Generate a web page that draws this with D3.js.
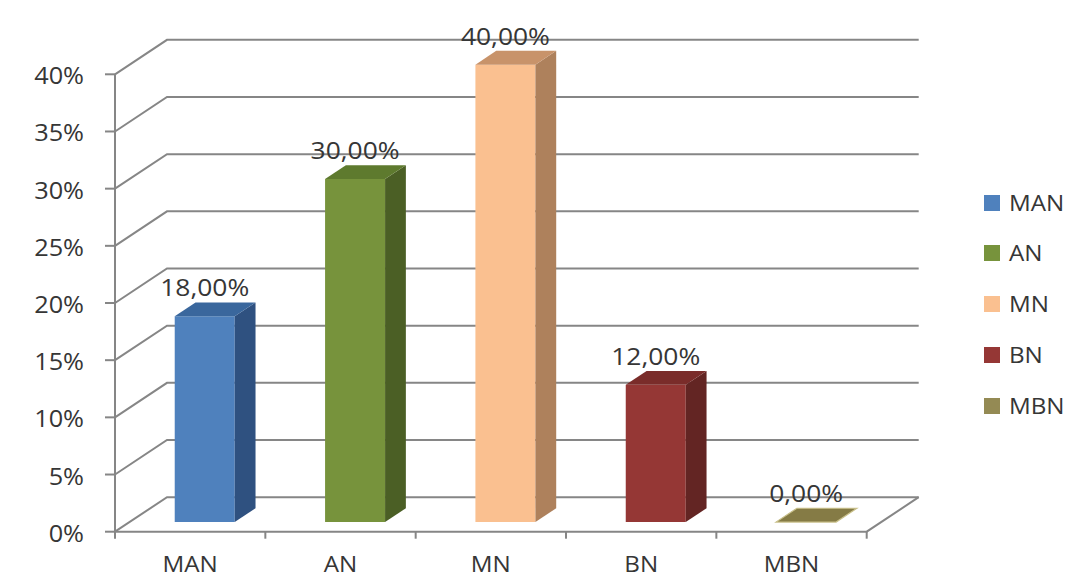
<!DOCTYPE html>
<html>
<head>
<meta charset="utf-8">
<script src="https://cdn.jsdelivr.net/npm/d3@7"></script>
<style>
  html, body { margin: 0; padding: 0; background: #ffffff; }
  svg { display: block; }
  text { font-family: "Open Sans", "DejaVu Sans", sans-serif; fill: #363636; }
</style>
</head>
<body>
<svg id="chart" width="1087" height="579"></svg>
<script>
// Distribution of levels (share of responses)
const categories = ["MAN", "AN", "MN", "BN", "MBN"];
const values = [0.18, 0.30, 0.40, 0.12, 0.00];
const valueLabels = ["18,00%", "30,00%", "40,00%", "12,00%", "0,00%"];
const yTicks = [0, 0.05, 0.10, 0.15, 0.20, 0.25, 0.30, 0.35, 0.40];
const yTickLabels = ["0%", "5%", "10%", "15%", "20%", "25%", "30%", "35%", "40%"];

// Face colours per series: front, side, top
const frontColors = ["#4F81BD", "#77933C", "#FAC090", "#953735", "#948A54"];
const sideColors  = ["#2F5180", "#4B5F25", "#AE815C", "#632523", "#6B633A"];
const topColors   = ["#3A679D", "#5E7A2E", "#C8936A", "#7A2C2A", "#857B45"];

const svg = d3.select("#chart");

// Plot geometry: front plane of the floor and depth vector of the box
const x0 = 115, x1 = 866.7;
const depth = { dx: 52, dy: -34.5 };
const zFront = 0.28, zBack = 0.68;   // bar depth within the floor

const x = d3.scaleBand().domain(categories).range([x0, x1]).paddingInner(0).paddingOuter(0);
const y = d3.scaleLinear().domain([0, 0.40]).range([531.7, 74.3]);
const barW = 60;

// project a point (px, value, z) into screen space
function proj(px, v, z) {
  return [px + depth.dx * z, y(v) + depth.dy * z];
}

const gGrid = svg.append("g");

// Left wall and back wall gridlines
yTicks.forEach(t => {
  const a = proj(x0, t, 0), b = proj(x0, t, 1), c = proj(x1, t, 1);
  gGrid.append("path")
    .attr("d", `M${a[0]},${a[1]}L${b[0]},${b[1]}L${c[0]},${c[1]}`)
    .attr("fill", "none")
    .attr("stroke", "#868686")
    .attr("stroke-width", 2);
});

// Floor: right edge and front edge
{
  const a = proj(x0, 0, 0), b = proj(x1, 0, 0), c = proj(x1, 0, 1);
  gGrid.append("path")
    .attr("d", `M${a[0]},${a[1]}L${b[0]},${b[1]}L${c[0]},${c[1]}`)
    .attr("fill", "none")
    .attr("stroke", "#868686")
    .attr("stroke-width", 2);
}

// Vertical value axis with ticks
gGrid.append("line")
  .attr("x1", x0).attr("x2", x0)
  .attr("y1", y(0.40)).attr("y2", y(0) + 7)
  .attr("stroke", "#868686").attr("stroke-width", 2);
yTicks.forEach(t => {
  gGrid.append("line")
    .attr("x1", x0 - 10).attr("x2", x0)
    .attr("y1", y(t)).attr("y2", y(t))
    .attr("stroke", "#868686").attr("stroke-width", 2);
});

// Category axis ticks at band boundaries
categories.forEach((c, i) => {
  const bx = x(c) + x.bandwidth();
  gGrid.append("line")
    .attr("x1", bx).attr("x2", bx)
    .attr("y1", y(0)).attr("y2", y(0) + 7)
    .attr("stroke", "#868686").attr("stroke-width", 2);
});

// Bars as extruded boxes
const gBars = svg.append("g");
categories.forEach((c, i) => {
  const v = values[i];
  const cx = x(c) + x.bandwidth() / 2;
  const L = cx - barW / 2, R = cx + barW / 2;
  const fBL = proj(L, 0, zFront), fBR = proj(R, 0, zFront);
  const fTL = proj(L, v, zFront), fTR = proj(R, v, zFront);
  const bBR = proj(R, 0, zBack), bTL = proj(L, v, zBack), bTR = proj(R, v, zBack);
  const pts = arr => arr.map(p => p.join(",")).join(" ");
  const g = gBars.append("g");
  if (v > 0) {
    g.append("polygon").attr("points", pts([fBL, fBR, fTR, fTL])).attr("fill", frontColors[i]);
    g.append("polygon").attr("points", pts([fBR, bBR, bTR, fTR])).attr("fill", sideColors[i]);
    g.append("polygon").attr("points", pts([fTL, fTR, bTR, bTL])).attr("fill", topColors[i]);
  } else {
    g.append("polygon").attr("points", pts([fTL, fTR, bTR, bTL]))
      .attr("fill", topColors[i]).attr("stroke", "#c9c08a").attr("stroke-width", 1.2);
  }
});

// Helper: horizontally widened text
function label(sel, tx, ty, str, size, anchor) {
  sel.append("text")
    .attr("transform", `translate(${tx},${ty}) scale(1.1,1)`)
    .attr("text-anchor", anchor)
    .attr("font-size", size)
    .text(str);
}

const gText = svg.append("g");

// Value labels above each bar
categories.forEach((c, i) => {
  const cx = x(c) + x.bandwidth() / 2;
  const p = proj(cx, values[i], zBack);
  const fx = proj(cx, 0, zFront)[0];
  label(gText, fx, p[1] - 6, valueLabels[i], 24, "middle");
});

// Value axis labels
yTicks.forEach((t, i) => {
  label(gText, 84, y(t) + 10, yTickLabels[i], 23, "end");
});

// Category labels
categories.forEach(c => {
  label(gText, x(c) + x.bandwidth() / 2, 572, c, 22, "middle");
});

// Legend
const legendY = [203, 253, 304, 355, 406];
const gLegend = svg.append("g");
categories.forEach((c, i) => {
  gLegend.append("rect")
    .attr("x", 984).attr("y", legendY[i] - 8)
    .attr("width", 16).attr("height", 16)
    .attr("fill", frontColors[i]);
  label(gLegend, 1009, legendY[i] + 8, c, 22, "start");
});
</script>
</body>
</html>
